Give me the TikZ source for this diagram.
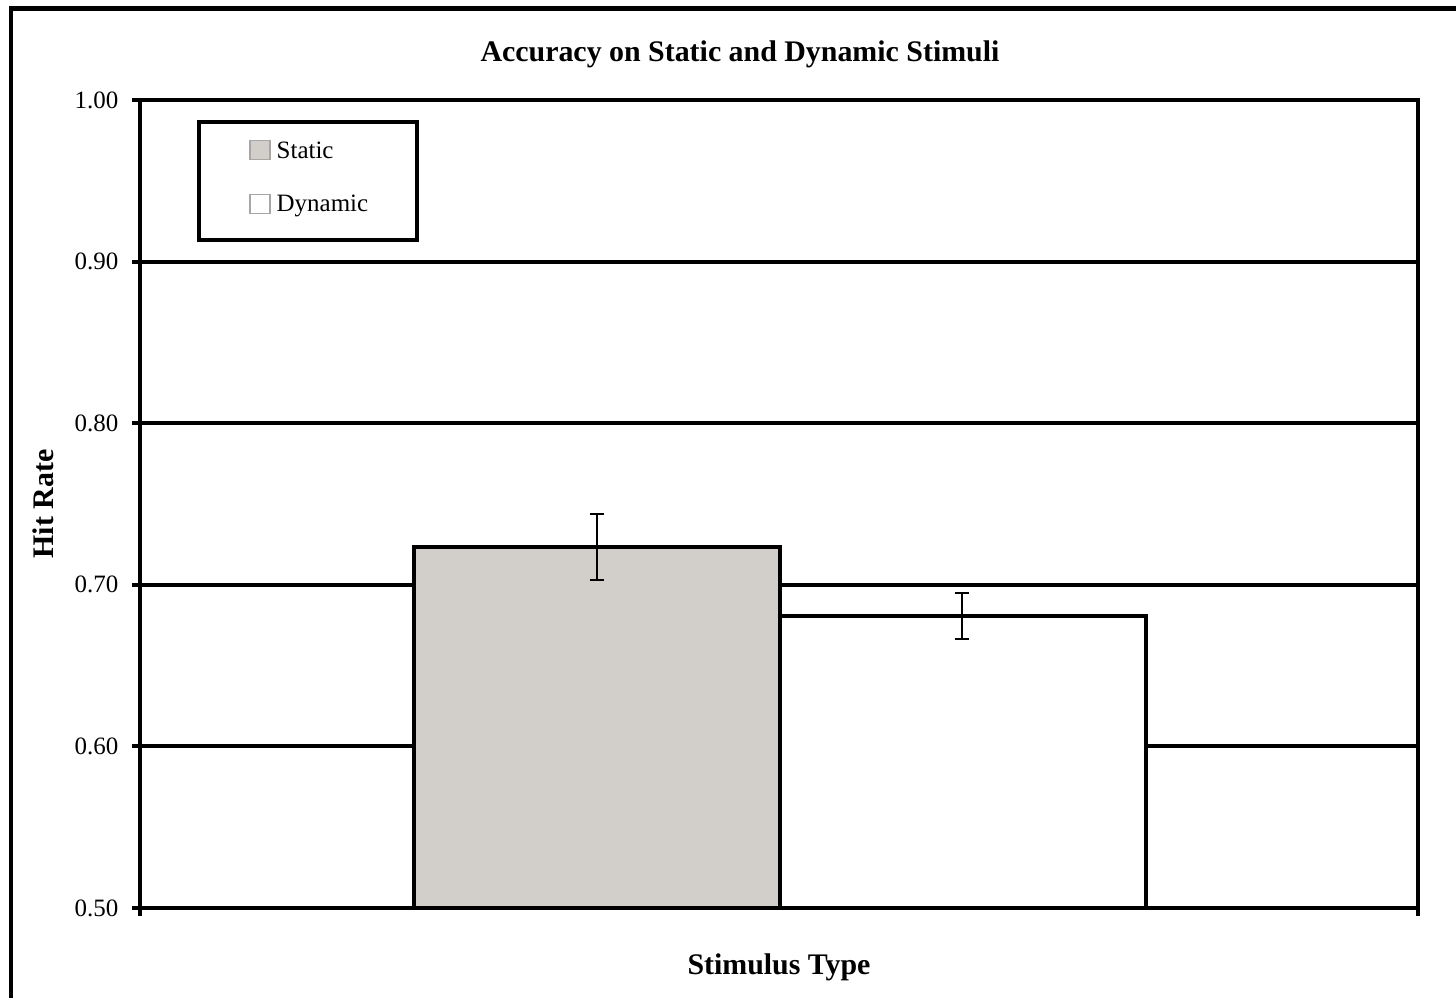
\documentclass[tikz,border=0pt]{standalone}
\usepackage{fontspec}
\setmainfont{Liberation Serif}
\definecolor{staticgray}{RGB}{210,207,202}

\begin{document}
\begin{tikzpicture}[x=0.01cm, y=-0.01cm,
                thickline/.style={line width=1.15pt},
                errline/.style={line width=0.6pt},
                ticklabel/.style={anchor=east, font=\fontsize{7.1}{8}\selectfont, inner sep=0pt},
                axislabel/.style={font=\bfseries\fontsize{8.5}{10}\selectfont, inner sep=0pt},
                legendlabel/.style={anchor=base west, font=\fontsize{7.1}{8}\selectfont, inner sep=0pt},
                swatch/.style={draw=gray!70, line width=0.4pt, minimum width=0.2cm, minimum height=0.19cm, inner sep=0pt}]

                \useasboundingbox (0,0) rectangle (1456,998);

                % outer frame, cut at right and bottom
                \draw[thickline] (11,998) -- (11,8.5) -- (1456,8.5);

                \node[axislabel] (title) at (740,54) {Accuracy on Static and Dynamic Stimuli};
                \node[axislabel, rotate=90] (ylab) at (43,504) {Hit Rate};
                \node[axislabel] (xlab) at (779,967) {Stimulus Type};

                % grid lines
                \draw[thickline] (140,261.6) -- (1418,261.6);
                \draw[thickline] (140,423.2) -- (1418,423.2);
                \draw[thickline] (140,584.8) -- (1418,584.8);
                \draw[thickline] (140,746.4) -- (1418,746.4);

                % bars
                \draw[thickline, fill=staticgray] (414,908) rectangle (780,547);
                \draw[thickline, fill=white] (780,908) rectangle (1146,616);

                % error bars
                \coordinate (sHi) at (597,514);
                \coordinate (sLo) at (597,580);
                \coordinate (dHi) at (962,593);
                \coordinate (dLo) at (962,639);
                \draw[errline] (sHi) -- (sLo);
                \draw[errline] ([xshift=-0.07cm]sHi) -- ([xshift=0.07cm]sHi);
                \draw[errline] ([xshift=-0.07cm]sLo) -- ([xshift=0.07cm]sLo);
                \draw[errline] (dHi) -- (dLo);
                \draw[errline] ([xshift=-0.07cm]dHi) -- ([xshift=0.07cm]dHi);
                \draw[errline] ([xshift=-0.07cm]dLo) -- ([xshift=0.07cm]dLo);

                % plot frame and ticks
                \draw[thickline] (140,100) rectangle (1418,908);
                \draw[thickline] (132,100) -- (140,100);
                \draw[thickline] (132,261.6) -- (140,261.6);
                \draw[thickline] (132,423.2) -- (140,423.2);
                \draw[thickline] (132,584.8) -- (140,584.8);
                \draw[thickline] (132,746.4) -- (140,746.4);
                \draw[thickline] (132,908) -- (140,908);
                \draw[thickline] (140,908) -- (140,916);
                \draw[thickline] (1418,908) -- (1418,916);

                \node[ticklabel] (t100) at (119,100) {1.00};
                \node[ticklabel] (t090) at (119,261.6) {0.90};
                \node[ticklabel] (t080) at (119,423.2) {0.80};
                \node[ticklabel] (t070) at (119,584.8) {0.70};
                \node[ticklabel] (t060) at (119,746.4) {0.60};
                \node[ticklabel] (t050) at (119,908) {0.50};

                % legend
                \draw[thickline, fill=white] (199,122) rectangle (417,240);
                \node[swatch, fill=staticgray] (sStatic) at (260,150) {};
                \node[swatch, fill=white] (sDynamic) at (260,204) {};
                \node[legendlabel] (lStatic) at (276,159) {Static};
                \node[legendlabel] (lDynamic) at (276,212) {Dynamic};
            \end{tikzpicture}
\end{document}
